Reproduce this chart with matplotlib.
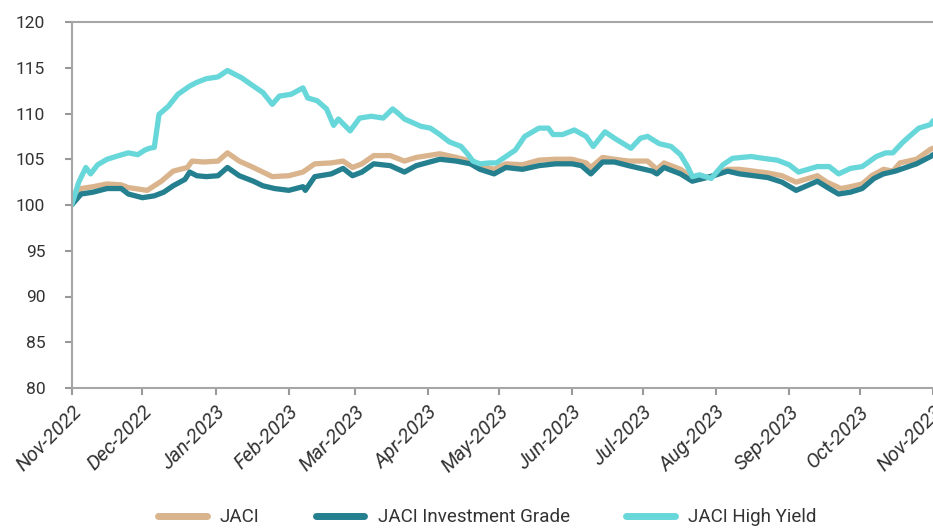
import matplotlib
matplotlib.use("Agg")
import matplotlib.pyplot as plt
import matplotlib.dates as mdates
import pandas as pd
import numpy as np

plt.rcParams['font.family'] = ['Roboto', 'DejaVu Sans']

start = pd.Timestamp("2022-11-01")
end = pd.Timestamp("2023-11-01")

# Day offsets from 2022-11-01 and index levels
jaci_days = [0, 4, 9, 15, 21, 24, 32, 38, 43, 49, 51, 56, 62, 66, 71, 77, 81, 85, 92, 98,
             103, 110, 115, 119, 123, 128, 135, 141, 146, 156, 163, 169, 173, 179, 184, 191,
             198, 205, 212, 218, 220, 225, 230, 236, 244, 248, 251, 258, 263, 266, 272, 278,
             283, 289, 295, 301, 307, 316, 320, 326, 330, 335, 339, 344, 348, 351, 358, 364, 365]
jaci_vals = [100.0, 101.8, 102.0, 102.3, 102.2, 101.9, 101.6, 102.6, 103.7, 104.1, 104.8, 104.7,
             104.8, 105.7, 104.8, 104.1, 103.6, 103.1, 103.2, 103.6, 104.5, 104.6, 104.8, 104.1,
             104.5, 105.4, 105.4, 104.8, 105.2, 105.6, 105.2, 104.8, 104.3, 103.9, 104.5, 104.4,
             104.9, 105.0, 105.0, 104.6, 104.1, 105.2, 105.0, 104.8, 104.8, 103.9, 104.6, 103.9,
             103.0, 102.8, 103.2, 103.9, 103.9, 103.7, 103.5, 103.2, 102.5, 103.2, 102.5, 101.8,
             102.0, 102.3, 103.2, 103.9, 103.7, 104.6, 105.0, 106.1, 106.2]

ig_days = [0, 4, 9, 15, 21, 24, 30, 35, 39, 43, 48, 50, 53, 57, 62, 66, 71, 77, 81, 86, 92, 98,
           99, 103, 110, 115, 119, 123, 128, 135, 141, 146, 156, 163, 169, 173, 179, 184, 191,
           198, 205, 212, 216, 220, 225, 230, 236, 246, 248, 251, 258, 263, 266, 272, 278, 283,
           289, 295, 301, 307, 316, 321, 325, 330, 335, 340, 344, 349, 358, 364, 365]
ig_vals = [100.0, 101.2, 101.4, 101.8, 101.8, 101.2, 100.8, 101.0, 101.4, 102.1, 102.8, 103.6,
           103.2, 103.1, 103.2, 104.1, 103.2, 102.6, 102.1, 101.8, 101.6, 102.0, 101.6, 103.1,
           103.4, 104.0, 103.2, 103.6, 104.5, 104.3, 103.6, 104.3, 105.0, 104.8, 104.5, 103.9,
           103.4, 104.1, 103.9, 104.3, 104.5, 104.5, 104.3, 103.4, 104.7, 104.7, 104.3, 103.7,
           103.4, 104.1, 103.4, 102.6, 102.8, 103.2, 103.7, 103.4, 103.2, 103.0, 102.5, 101.6,
           102.6, 101.8, 101.2, 101.4, 101.8, 102.9, 103.4, 103.7, 104.5, 105.3, 105.5]

hy_days = [0, 3, 6, 8, 11, 15, 20, 24, 28, 31, 33, 35, 37, 41, 45, 50, 53, 57, 62, 66, 72, 77,
           81, 85, 88, 93, 98, 100, 104, 108, 111, 113, 118, 122, 127, 132, 136, 138, 141, 148,
           152, 156, 160, 165, 168, 170, 173, 177, 180, 184, 188, 192, 198, 202, 204, 208, 213,
           218, 221, 226, 230, 237, 241, 244, 249, 254, 258, 261, 263, 266, 271, 276, 280, 288,
           293, 299, 304, 308, 316, 321, 325, 330, 335, 341, 345, 348, 352, 355, 359, 364, 365]
hy_vals = [100.0, 102.5, 104.1, 103.4, 104.4, 105.0, 105.4, 105.7, 105.5, 106.0, 106.2, 106.3,
           109.9, 110.8, 112.1, 113.0, 113.4, 113.8, 114.0, 114.7, 113.9, 113.0, 112.3, 111.0,
           111.9, 112.1, 112.8, 111.7, 111.4, 110.5, 108.7, 109.4, 108.1, 109.5, 109.7, 109.5,
           110.5, 110.1, 109.4, 108.6, 108.4, 107.7, 106.9, 106.4, 105.5, 104.8, 104.5, 104.6,
           104.6, 105.3, 106.0, 107.5, 108.4, 108.4, 107.7, 107.7, 108.2, 107.5, 106.4, 108.0,
           107.3, 106.2, 107.3, 107.5, 106.7, 106.4, 105.5, 104.2, 103.1, 103.3, 102.9, 104.4,
           105.1, 105.3, 105.1, 104.9, 104.4, 103.6, 104.2, 104.2, 103.4, 104.0, 104.2, 105.3,
           105.7, 105.7, 106.8, 107.5, 108.4, 108.8, 109.2]

series_names = ["JACI", "JACI Investment Grade", "JACI High Yield"]
series_colors = ["#D9B48D", "#247F8F", "#68D7DA"]
y_ticks = [80, 85, 90, 95, 100, 105, 110, 115, 120]


def to_dates(days):
    return start + pd.to_timedelta(days, unit="D")


fig = plt.figure(figsize=(9.33, 5.29), dpi=100)
ax = fig.add_axes([71.7 / 933, (529 - 388) / 529, (933 - 71.7) / 933, (388 - 22) / 529])

for days, vals, name, col in zip([jaci_days, ig_days, hy_days],
                                 [jaci_vals, ig_vals, hy_vals],
                                 series_names, series_colors):
    ax.plot(to_dates(days), vals, color=col, lw=3.8, label=name,
            solid_joinstyle="round", solid_capstyle="round")

ax.set_xlim(start, end)
ax.set_ylim(80, 120)
ax.set_yticks(y_ticks)
ax.tick_params(axis="y", labelsize=12.5, colors="#999999", labelcolor="#333333",
               length=5, width=1.5, pad=14)
months = pd.date_range(start, end, freq="MS")
ax.set_xticks(months)
ax.set_xticklabels([m.strftime("%b-%Y") for m in months], rotation=45, ha="right",
                   va="top", rotation_mode="anchor", fontstyle="italic", fontsize=14.5,
                   color="#333333")
ax.tick_params(axis="x", colors="#999999", labelcolor="#333333", length=5, width=1.5, pad=5)

for s in ["left", "bottom", "top"]:
    ax.spines[s].set_color("#A6A6A6")
    ax.spines[s].set_linewidth(1.5)
ax.spines["right"].set_visible(False)

leg = fig.legend(loc="lower center", bbox_to_anchor=(0.522, -0.027), ncol=3, frameon=False,
                 fontsize=13.5, handlelength=2.6, columnspacing=3.0, handletextpad=0.7)
for line in leg.get_lines():
    line.set_linewidth(5)
    line.set_solid_capstyle("round")
for t in leg.get_texts():
    t.set_color("#333333")

fig.savefig("out.png", dpi=100)
